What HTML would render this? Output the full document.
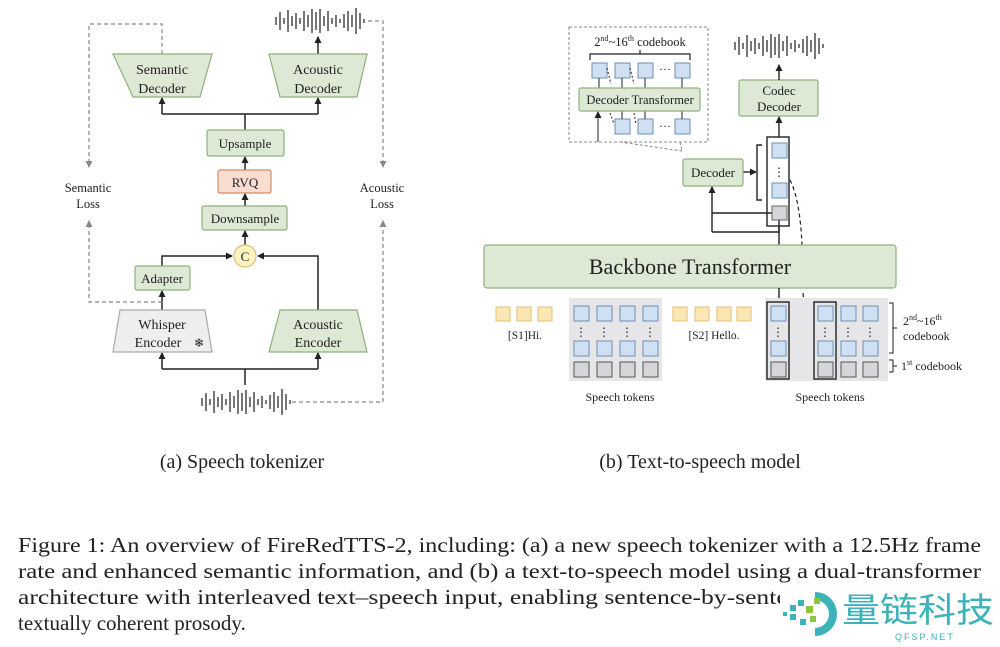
<!DOCTYPE html>
<html><head><meta charset="utf-8"><style>
html,body{margin:0;padding:0;background:#fff;}
svg{display:block;}
text{font-family:"Liberation Serif",serif;fill:#222;}
</style></head><body>
<svg width="1000" height="647" viewBox="0 0 1000 647" xmlns="http://www.w3.org/2000/svg">
<defs>
<marker id="ar" markerWidth="8" markerHeight="8" refX="6" refY="4" orient="auto" markerUnits="userSpaceOnUse"><path d="M0,0.5 L7,4 L0,7.5 z" fill="#222"/></marker>
<marker id="ag" markerWidth="8" markerHeight="8" refX="6" refY="4" orient="auto" markerUnits="userSpaceOnUse"><path d="M0,0.5 L7,4 L0,7.5 z" fill="#888"/></marker>
<g id="wave" stroke="#555" stroke-width="1.6">
<line x1="0" y1="-4" x2="0" y2="4"/><line x1="4" y1="-9" x2="4" y2="9"/><line x1="8" y1="-3" x2="8" y2="3"/><line x1="12" y1="-11" x2="12" y2="11"/><line x1="16" y1="-5" x2="16" y2="5"/><line x1="20" y1="-8" x2="20" y2="8"/><line x1="24" y1="-3" x2="24" y2="3"/><line x1="28" y1="-10" x2="28" y2="10"/><line x1="32" y1="-6" x2="32" y2="6"/><line x1="36" y1="-12" x2="36" y2="12"/><line x1="40" y1="-9" x2="40" y2="9"/><line x1="44" y1="-12" x2="44" y2="12"/><line x1="48" y1="-5" x2="48" y2="5"/><line x1="52" y1="-10" x2="52" y2="10"/><line x1="56" y1="-3" x2="56" y2="3"/><line x1="60" y1="-6" x2="60" y2="6"/><line x1="64" y1="-2" x2="64" y2="2"/><line x1="68" y1="-7" x2="68" y2="7"/><line x1="72" y1="-10" x2="72" y2="10"/><line x1="76" y1="-6" x2="76" y2="6"/><line x1="80" y1="-13" x2="80" y2="13"/><line x1="84" y1="-8" x2="84" y2="8"/><line x1="88" y1="-2" x2="88" y2="2"/>
</g>
</defs>

<!-- LEFT PANEL -->
<g stroke="#222" stroke-width="1.5" fill="none">
<polyline points="245,130 245,114"/>
<polyline points="162,114 318,114"/>
<line x1="162" y1="114" x2="162" y2="98" marker-end="url(#ar)"/>
<line x1="318" y1="114" x2="318" y2="98" marker-end="url(#ar)"/>
<line x1="318" y1="54" x2="318" y2="37" marker-end="url(#ar)"/>
<line x1="245" y1="170" x2="245" y2="157" marker-end="url(#ar)"/>
<line x1="245" y1="206" x2="245" y2="194" marker-end="url(#ar)"/>
<line x1="245" y1="245" x2="245" y2="231" marker-end="url(#ar)"/>
<polyline points="162,266 162,256 232,256" marker-end="url(#ar)"/>
<polyline points="318,310 318,256 258,256" marker-end="url(#ar)"/>
<line x1="162" y1="310" x2="162" y2="291" marker-end="url(#ar)"/>
<polyline points="245,385 245,369"/>
<polyline points="162,369 318,369"/>
<line x1="162" y1="369" x2="162" y2="353" marker-end="url(#ar)"/>
<line x1="318" y1="369" x2="318" y2="353" marker-end="url(#ar)"/>
</g>
<g stroke="#888" stroke-width="1.2" fill="none" stroke-dasharray="4,3">
<polyline points="162,54 162,24 89,24 89,167" marker-end="url(#ag)"/>
<polyline points="162,302 89,302 89,221" marker-end="url(#ag)"/>
<polyline points="368,21 383,21 383,167" marker-end="url(#ag)"/>
<polyline points="292,402 383,402 383,221" marker-end="url(#ag)"/>
</g>
<text x="88" y="192" font-size="12.5" text-anchor="middle">Semantic</text>
<text x="88" y="208" font-size="12.5" text-anchor="middle">Loss</text>
<text x="382" y="192" font-size="12.5" text-anchor="middle">Acoustic</text>
<text x="382" y="208" font-size="12.5" text-anchor="middle">Loss</text>

<polygon points="113,54 212,54 200,97 133,97" fill="#dde9d4" stroke="#8fb07e" stroke-width="1.2"/>
<text x="162" y="74" font-size="14" text-anchor="middle">Semantic</text>
<text x="162" y="93" font-size="14" text-anchor="middle">Decoder</text>
<polygon points="269,54 367,54 357,97 280,97" fill="#dde9d4" stroke="#8fb07e" stroke-width="1.2"/>
<text x="318" y="74" font-size="14" text-anchor="middle">Acoustic</text>
<text x="318" y="93" font-size="14" text-anchor="middle">Decoder</text>
<rect x="207" y="130" width="77" height="26" rx="2" fill="#dde9d4" stroke="#8fb07e" stroke-width="1.2"/>
<text x="245" y="148" font-size="13" text-anchor="middle">Upsample</text>
<rect x="218" y="170" width="53" height="23" rx="2" fill="#f8ddd0" stroke="#d48b6a" stroke-width="1.2"/>
<text x="245" y="187" font-size="13" text-anchor="middle">RVQ</text>
<rect x="202" y="206" width="85" height="24" rx="2" fill="#dde9d4" stroke="#8fb07e" stroke-width="1.2"/>
<text x="245" y="223" font-size="13" text-anchor="middle">Downsample</text>
<circle cx="245" cy="256" r="11" fill="#fdf2c2" stroke="#d8c27a" stroke-width="1.2"/>
<text x="245" y="261" font-size="13" text-anchor="middle">C</text>
<rect x="135" y="266" width="55" height="24" rx="2" fill="#dde9d4" stroke="#8fb07e" stroke-width="1.2"/>
<text x="162" y="283" font-size="13" text-anchor="middle">Adapter</text>
<polygon points="120,310 205,310 212,352 113,352" fill="#eeeeee" stroke="#aaa" stroke-width="1.2"/>
<text x="162" y="329" font-size="14" text-anchor="middle">Whisper</text>
<text x="158" y="347" font-size="14" text-anchor="middle">Encoder</text>
<text x="199" y="347" font-size="12" text-anchor="middle" fill="#999">❄</text>
<polygon points="280,310 357,310 367,352 269,352" fill="#dde9d4" stroke="#8fb07e" stroke-width="1.2"/>
<text x="318" y="329" font-size="14" text-anchor="middle">Acoustic</text>
<text x="318" y="347" font-size="14" text-anchor="middle">Encoder</text>
<use href="#wave" x="276" y="21"/>
<use href="#wave" x="202" y="402"/>

<text x="242" y="468" font-size="20" text-anchor="middle">(a) Speech tokenizer</text>

<!-- RIGHT PANEL -->
<rect x="569" y="27" width="139" height="115" fill="none" stroke="#888" stroke-width="1" stroke-dasharray="3,2"/>
<polyline points="680,142 682,151" fill="none" stroke="#888" stroke-dasharray="3,2"/>
<polyline points="620,142 682,151" fill="none" stroke="#888" stroke-dasharray="3,2"/>
<text x="640" y="46" font-size="12.5" text-anchor="middle">2<tspan font-size="8" dy="-5">nd</tspan><tspan dy="5">~16</tspan><tspan font-size="8" dy="-5">th</tspan><tspan dy="5"> codebook</tspan></text>
<path d="M590,60 L590,54 L690,54 L690,60 M640,54 L640,50" fill="none" stroke="#222" stroke-width="1.2"/>
<g fill="#cfe0f3" stroke="#6f8fb3" stroke-width="1">
<rect x="592" y="63" width="15" height="15"/><rect x="615" y="63" width="15" height="15"/><rect x="638" y="63" width="15" height="15"/><rect x="675" y="63" width="15" height="15"/>
<rect x="615" y="119" width="15" height="15"/><rect x="638" y="119" width="15" height="15"/><rect x="675" y="119" width="15" height="15"/>
</g>
<text x="665" y="73" font-size="12" text-anchor="middle">···</text>
<text x="665" y="130" font-size="12" text-anchor="middle">···</text>
<g stroke="#222" stroke-width="1">
<line x1="599" y1="78" x2="599" y2="88"/><line x1="622" y1="78" x2="622" y2="88"/><line x1="645" y1="78" x2="645" y2="88"/><line x1="682" y1="78" x2="682" y2="88"/>
<line x1="622" y1="111" x2="622" y2="119"/><line x1="645" y1="111" x2="645" y2="119"/><line x1="682" y1="111" x2="682" y2="119"/>
</g>
<g stroke="#222" stroke-width="1" stroke-dasharray="2,2" fill="none">
<path d="M607,68 L611,84"/><path d="M630,68 L634,84"/><path d="M610,113 L614,124"/><path d="M634,113 L636,124"/>
</g>
<rect x="579" y="88" width="121" height="23" rx="2" fill="#dde9d4" stroke="#8fb07e" stroke-width="1.2"/>
<text x="640" y="104" font-size="12.5" text-anchor="middle">Decoder Transformer</text>
<line x1="598" y1="142" x2="598" y2="112" stroke="#222" stroke-width="1" marker-end="url(#ar)"/>

<use href="#wave" x="735" y="46"/>
<rect x="739" y="80" width="79" height="36" rx="2" fill="#dde9d4" stroke="#8fb07e" stroke-width="1.2"/>
<text x="779" y="95" font-size="13" text-anchor="middle">Codec</text>
<text x="779" y="111" font-size="13" text-anchor="middle">Decoder</text>
<g stroke="#222" stroke-width="1.4" fill="none">
<line x1="779" y1="80" x2="779" y2="65" marker-end="url(#ar)"/>
<line x1="779" y1="137" x2="779" y2="117" marker-end="url(#ar)"/>
<rect x="767" y="137" width="22" height="89"/>
<path d="M762,145 L757,145 L757,200 L762,200"/>
<line x1="743" y1="172" x2="756" y2="172" marker-end="url(#ar)"/>
<polyline points="779,245 779,213 712,213"/>
<polyline points="779,226 779,232 712,232"/>
<line x1="712" y1="232" x2="712" y2="187" marker-end="url(#ar)"/>
</g>
<g fill="#cfe0f3" stroke="#6f8fb3" stroke-width="1"><rect x="772" y="143" width="15" height="15"/><rect x="772" y="183" width="15" height="15"/></g>
<rect x="772" y="206" width="15" height="14" fill="#d4d6da" stroke="#666" stroke-width="1"/>
<text x="779" y="176" font-size="12" text-anchor="middle">⋮</text>
<rect x="683" y="159" width="60" height="27" rx="2" fill="#dde9d4" stroke="#8fb07e" stroke-width="1.2"/>
<text x="713" y="177" font-size="13" text-anchor="middle">Decoder</text>
<path d="M790,180 Q800,200 802,245" fill="none" stroke="#222" stroke-width="1.2" stroke-dasharray="4,3"/>

<rect x="484" y="245" width="412" height="43" rx="3" fill="#dde9d4" stroke="#8fb07e" stroke-width="1.2"/>
<text x="690" y="274" font-size="22" text-anchor="middle">Backbone Transformer</text>
<line x1="779" y1="288" x2="779" y2="302" stroke="#222" stroke-width="1.4"/>
<path d="M803,293 Q806,320 814,338" fill="none" stroke="#222" stroke-width="1.2" stroke-dasharray="4,3" marker-end="url(#ar)"/>

<g fill="#fbe7b4" stroke="#e2c37a" stroke-width="1">
<rect x="496" y="307" width="14" height="14"/><rect x="517" y="307" width="14" height="14"/><rect x="538" y="307" width="14" height="14"/>
<rect x="673" y="307" width="14" height="14"/><rect x="695" y="307" width="14" height="14"/><rect x="717" y="307" width="14" height="14"/><rect x="737" y="307" width="14" height="14"/>
</g>
<text x="525" y="339" font-size="11.5" text-anchor="middle">[S1]Hi.</text>
<text x="714" y="339" font-size="11.5" text-anchor="middle">[S2] Hello.</text>
<rect x="569" y="298" width="93" height="83" fill="#e6e6e8"/>
<rect x="765" y="298" width="123" height="83" fill="#e6e6e8"/>
<g fill="#cfe0f3" stroke="#6f8fb3" stroke-width="1">
<rect x="574" y="306" width="15" height="15"/><rect x="597" y="306" width="15" height="15"/><rect x="620" y="306" width="15" height="15"/><rect x="643" y="306" width="15" height="15"/>
<rect x="574" y="341" width="15" height="15"/><rect x="597" y="341" width="15" height="15"/><rect x="620" y="341" width="15" height="15"/><rect x="643" y="341" width="15" height="15"/>
<rect x="771" y="306" width="15" height="15"/><rect x="818" y="306" width="15" height="15"/><rect x="841" y="306" width="15" height="15"/><rect x="863" y="306" width="15" height="15"/>
<rect x="771" y="341" width="15" height="15"/><rect x="818" y="341" width="15" height="15"/><rect x="841" y="341" width="15" height="15"/><rect x="863" y="341" width="15" height="15"/>
</g>
<g fill="#d4d6da" stroke="#555" stroke-width="1">
<rect x="574" y="362" width="15" height="15"/><rect x="597" y="362" width="15" height="15"/><rect x="620" y="362" width="15" height="15"/><rect x="643" y="362" width="15" height="15"/>
<rect x="771" y="362" width="15" height="15"/><rect x="818" y="362" width="15" height="15"/><rect x="841" y="362" width="15" height="15"/><rect x="863" y="362" width="15" height="15"/>
</g>
<g font-size="12" text-anchor="middle">
<text x="581" y="336">⋮</text><text x="604" y="336">⋮</text><text x="627" y="336">⋮</text><text x="650" y="336">⋮</text>
<text x="778" y="336">⋮</text><text x="825" y="336">⋮</text><text x="848" y="336">⋮</text><text x="870" y="336">⋮</text>
</g>
<g fill="none" stroke="#222" stroke-width="1.4">
<rect x="767" y="302" width="22" height="77"/><rect x="814" y="302" width="22" height="77"/>
<path d="M889,303 L893,303 L893,353 L889,353 M893,328 L897,328" stroke-width="1"/>
<path d="M889,360 L893,360 L893,372 L889,372 M893,366 L897,366" stroke-width="1"/>
</g>
<text x="903" y="325" font-size="12">2<tspan font-size="8" dy="-5">nd</tspan><tspan dy="5">~16</tspan><tspan font-size="8" dy="-5">th</tspan></text>
<text x="903" y="340" font-size="12">codebook</text>
<text x="901" y="370" font-size="12">1<tspan font-size="8" dy="-5">st</tspan><tspan dy="5"> codebook</tspan></text>
<text x="620" y="401" font-size="12" text-anchor="middle">Speech tokens</text>
<text x="830" y="401" font-size="12" text-anchor="middle">Speech tokens</text>

<text x="700" y="468" font-size="20" text-anchor="middle">(b) Text-to-speech model</text>

<!-- CAPTION -->
<g font-size="21">
<text x="18" y="552" textLength="963" lengthAdjust="spacingAndGlyphs">Figure 1: An overview of FireRedTTS-2, including: (a) a new speech tokenizer with a 12.5Hz frame</text>
<text x="18" y="578" textLength="963" lengthAdjust="spacingAndGlyphs">rate and enhanced semantic information, and (b) a text-to-speech model using a dual-transformer</text>
<text x="18" y="604" textLength="963" lengthAdjust="spacingAndGlyphs">architecture with interleaved text–speech input, enabling sentence-by-sentence generation and</text>
<text x="18" y="630">textually coherent prosody.</text>
</g>
<!-- watermark -->
<rect x="780" y="585" width="220" height="60" fill="#fff"/>
<g fill="#3bb3b8">
<path d="M815,592 A22,22 0 0 1 815,636 L815,628 A14,14 0 0 0 815,600 Z"/>
<rect x="790" y="605" width="6" height="6"/><rect x="798" y="600" width="6" height="6"/><rect x="790" y="614" width="6" height="6"/><rect x="800" y="619" width="6" height="6"/><rect x="783" y="612" width="4" height="4"/>
</g>
<g fill="#8cc63e"><rect x="806" y="606" width="7" height="7"/><rect x="814" y="598" width="6" height="6"/><rect x="810" y="616" width="6" height="6"/></g>
<text x="842" y="622" font-size="34" fill="#3bb3b8" style="font-family:'Noto Sans CJK SC',sans-serif;fill:#3bb3b8" textLength="152" lengthAdjust="spacingAndGlyphs">量链科技</text>
<text x="895" y="640" font-size="9" style="font-family:'Liberation Sans',sans-serif;fill:#3bb3b8" letter-spacing="2">QFSP.NET</text>
</svg>
</body></html>
